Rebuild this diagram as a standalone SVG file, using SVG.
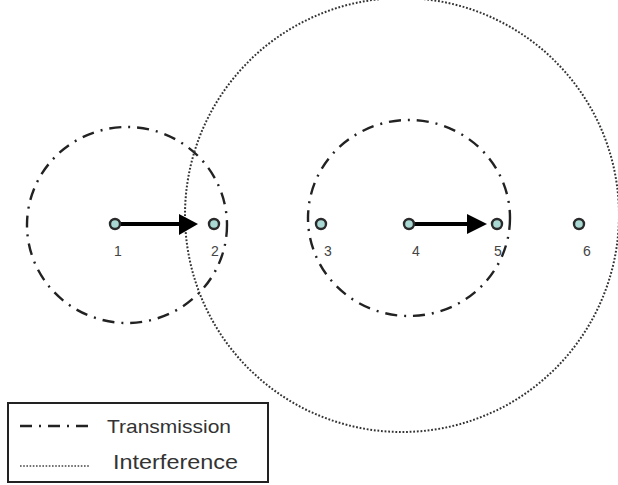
<svg xmlns="http://www.w3.org/2000/svg" width="618" height="485" viewBox="0 0 618 485">
<style>
.tx{fill:none;stroke:#222;stroke-width:2.4;stroke-dasharray:12 7 2 7}
.intf{fill:none;stroke:#333;stroke-width:2;stroke-dasharray:1.8 1.8}
.node{fill:#a9d9d2;stroke:#2a2a2a;stroke-width:2.4}
.lbl{font-family:"Liberation Sans",Arial,sans-serif;font-size:14px;fill:#444;text-anchor:middle}
.leg{font-family:"Liberation Sans",Arial,sans-serif;fill:#333}
.arr{stroke:#000;stroke-width:4;fill:none}
</style>
<rect width="618" height="485" fill="#fff"/>
<g id="ranges">
<ellipse class="tx" cx="127" cy="225" rx="100" ry="98"/>
<ellipse class="tx" cx="409" cy="218" rx="101" ry="98"/>
<circle class="intf" cx="402" cy="215" r="217"/>
</g>
<g id="connectors">
<line class="arr" x1="115" y1="224" x2="182" y2="224"/>
<polygon points="179,214 198,224 179,235" fill="#000"/>
<line class="arr" x1="409" y1="224" x2="470" y2="224"/>
<polygon points="467,214 487,224 467,234" fill="#000"/>
</g>
<g id="n1"><circle class="node" cx="115" cy="224" r="5"/><text class="lbl" x="118" y="256">1</text></g>
<g id="n2"><circle class="node" cx="214" cy="224" r="5"/><text class="lbl" x="215" y="256">2</text></g>
<g id="n3"><circle class="node" cx="321" cy="224" r="5"/><text class="lbl" x="328" y="256">3</text></g>
<g id="n4"><circle class="node" cx="409" cy="224" r="5"/><text class="lbl" x="416" y="256">4</text></g>
<g id="n5"><circle class="node" cx="497" cy="224" r="5"/><text class="lbl" x="498" y="256">5</text></g>
<g id="n6"><circle class="node" cx="579" cy="224" r="5"/><text class="lbl" x="587" y="256">6</text></g>
<g id="legend">
<rect x="8" y="403" width="260" height="79" fill="#fff" stroke="#222" stroke-width="2"/>
<line x1="20" y1="426" x2="90" y2="426" stroke="#222" stroke-width="2.4" stroke-dasharray="12 7 2 7"/>
<text class="leg" x="107" y="433" font-size="19" textLength="124" lengthAdjust="spacingAndGlyphs">Transmission</text>
<line x1="20" y1="466" x2="90" y2="466" stroke="#444" stroke-width="1.6" stroke-dasharray="1.6 1.6"/>
<text class="leg" x="113" y="469" font-size="20" textLength="125" lengthAdjust="spacingAndGlyphs">Interference</text>
</g>
</svg>
